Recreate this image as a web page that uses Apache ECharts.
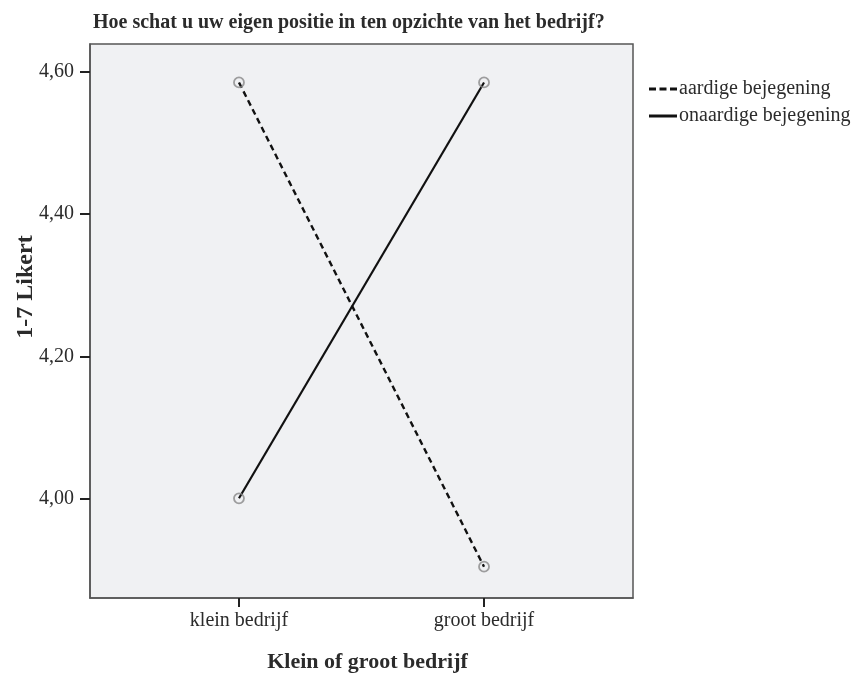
<!DOCTYPE html>
<html>
<head>
<meta charset="utf-8">
<script src="https://cdn.jsdelivr.net/npm/echarts@6/dist/echarts.min.js"></script>
<style>
  html, body { margin: 0; padding: 0; background: #fff; }
  #chart { width: 856px; height: 673px; }
</style>
</head>
<body>
<div id="chart"></div>
<script>
var categories = ['klein bedrijf', 'groot bedrijf'];
var seriesNames = ['aardige bejegening', 'onaardige bejegening'];
var aardige = [4.585, 3.905];
var onaardige = [4.001, 4.585];
var yTicks = [4.0, 4.2, 4.4, 4.6];

var font = 'Liberation Serif';
var ink = '#2b2b2b';

function pts(vals) {
    return vals.map(function (v, i) { return [i, v]; });
}

var myChart = echarts.init(document.getElementById('chart'));
var option = {
    animation: false,
    title: {
        text: 'Hoe schat u uw eigen positie in ten opzichte van het bedrijf?',
        left: 88,
        top: 8,
        textStyle: { fontFamily: font, fontSize: 20, fontWeight: 'bold', color: ink }
    },
    legend: {
        orient: 'vertical',
        left: 649,
        top: 79,
        padding: 0,
        itemWidth: 28,
        itemHeight: 3,
        itemGap: 7,
        data: [
            { name: seriesNames[0], icon: 'path://M0,0h7v3h-7zM10.5,0h7v3h-7zM21,0h7v3h-7z' },
            { name: seriesNames[1], icon: 'rect' }
        ],
        itemStyle: { color: '#111' },
        textStyle: { fontFamily: font, fontSize: 20, color: ink, padding: [0, 0, 0, -3] }
    },
    grid: {
        left: 90,
        right: 223,
        top: 44,
        bottom: 75,
        containLabel: false,
        outerBoundsMode: 'none',
        show: true,
        backgroundColor: '#f0f1f3',
        borderColor: '#555',
        borderWidth: 1.5
    },
    xAxis: {
        type: 'value',
        min: -0.608,
        max: 1.608,
        name: 'Klein of groot bedrijf',
        nameLocation: 'middle',
        nameGap: 53,
        nameMoveOverlap: false,
        nameTextStyle: { fontFamily: font, fontSize: 22, fontWeight: 'bold', color: ink, padding: [0, 0, 0, 12] },
        axisLine: { onZero: false, lineStyle: { color: '#555', width: 1.5 } },
        axisTick: { show: true, length: 9, customValues: [0, 1], lineStyle: { color: '#222', width: 2 } },
        axisLabel: {
            customValues: [0, 1],
            margin: 13,
            fontFamily: font, fontSize: 20, color: ink,
            formatter: function (v) { return categories[Math.round(v)]; }
        },
        splitLine: { show: false }
    },
    yAxis: {
        type: 'value',
        min: 3.861,
        max: 4.639,
        name: '1-7 Likert',
        nameLocation: 'middle',
        nameGap: 52,
        nameMoveOverlap: false,
        nameTextStyle: { fontFamily: font, fontSize: 24, fontWeight: 'bold', color: ink, padding: [0, 0, 0, 68] },
        axisLine: { show: true, onZero: false, lineStyle: { color: '#555', width: 1.5 } },
        axisTick: { show: true, length: 10, customValues: yTicks, lineStyle: { color: '#222', width: 2 } },
        axisLabel: {
            customValues: yTicks,
            margin: 16,
            fontFamily: font, fontSize: 20, color: ink,
            formatter: function (v) { return v.toFixed(2).replace('.', ','); }
        },
        splitLine: { show: false }
    },
    series: [
        {
            name: seriesNames[0],
            type: 'line',
            symbol: 'none',
            data: pts(aardige),
            lineStyle: { color: '#111', width: 2.4, type: [6, 4] },
            itemStyle: { color: '#111' },
            z: 2
        },
        {
            name: seriesNames[1],
            type: 'line',
            symbol: 'none',
            data: pts(onaardige),
            lineStyle: { color: '#111', width: 2.2, type: 'solid' },
            itemStyle: { color: '#111' },
            z: 2
        },
        {
            type: 'scatter',
            symbol: 'circle',
            symbolSize: 10,
            data: pts(aardige).concat(pts(onaardige)),
            itemStyle: { color: 'rgba(0,0,0,0)', borderColor: '#888', borderWidth: 1.8 },
            z: 3
        }
    ]
};
myChart.setOption(option);
</script>
</body>
</html>
